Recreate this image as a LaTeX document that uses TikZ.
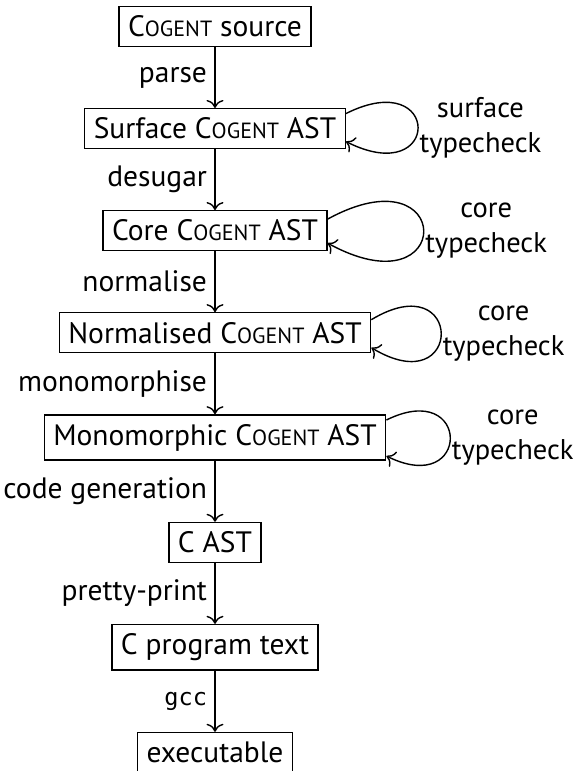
\documentclass[tikz,border=0pt]{standalone}
\usepackage{fontspec}
\setmainfont{PT Sans}
\setmonofont[Scale=0.8]{DejaVu Sans Mono}
\usetikzlibrary{positioning,arrows.meta}
% language name in faked small capitals
\newcommand\cogentsc{C{\fontsize{22}{24}\selectfont OGENT}}
\begin{document}
\begin{tikzpicture}[x=1pt,y=1pt,
  font=\fontsize{29.5}{35}\selectfont,
  stage/.style={draw, line width=1.4pt, inner xsep=9pt, inner ysep=9.2pt},
  flow/.style={-{Computer Modern Rightarrow[length=8pt,width=17pt]}, line width=1.4pt},
  steplabel/.style={midway, left=4pt},
  checklabel/.style={pos=0.5, right, inner sep=1pt, align=center,
    font=\fontsize{28.5}{35}\selectfont},
  node distance=60.9pt]
\useasboundingbox (0,0) rectangle (576,-771);

% compiler stages
\node[stage] (src) at (215,-26.5) {\cogentsc{} source};
\node[stage, below=of src]   (surf)  {Surface \cogentsc{} AST};
\node[stage, below=of surf]  (core)  {Core \cogentsc{} AST};
\node[stage, below=of core]  (norm)  {Normalised \cogentsc{} AST};
\node[stage, below=of norm]  (mono)  {Monomorphic \cogentsc{} AST};
\node[stage, below=of mono]  (cast)  {C AST};
\node[stage, below=of cast]  (cprog) {C program text};
\node[stage, below=of cprog] (exe)   {executable};

% passes between stages
\draw[flow] (src)   -- node[steplabel] {parse} (surf);
\draw[flow] (surf)  -- node[steplabel] {desugar} (core);
\draw[flow] (core)  -- node[steplabel] {normalise} (norm);
\draw[flow] (norm)  -- node[steplabel] {monomorphise} (mono);
\draw[flow] (mono)  -- node[steplabel] {code generation} (cast);
\draw[flow] (cast)  -- node[steplabel] {pretty-print} (cprog);
\draw[flow] (cprog) -- node[steplabel] {\texttt{gcc}} (exe);

% type-checking loops
\draw[flow] ([yshift=15pt]surf.east) .. controls +(96,48) and +(96,-48)
  .. ([yshift=-13pt]surf.east) node[checklabel] {surface\\typecheck};
\draw[flow] ([yshift=11.5pt]core.east) .. controls +(128,70) and +(128,-70)
  .. ([yshift=-12.5pt]core.east) node[checklabel] {core\\typecheck};
\draw[flow] ([yshift=13pt]norm.east) .. controls +(93,56) and +(93,-56)
  .. ([yshift=-15pt]norm.east) node[checklabel] {core\\typecheck};
\draw[flow] ([yshift=17.5pt]mono.east) .. controls +(85,42) and +(85,-42)
  .. ([yshift=-18.5pt]mono.east) node[checklabel] {core\\typecheck};
\end{tikzpicture}
\end{document}
